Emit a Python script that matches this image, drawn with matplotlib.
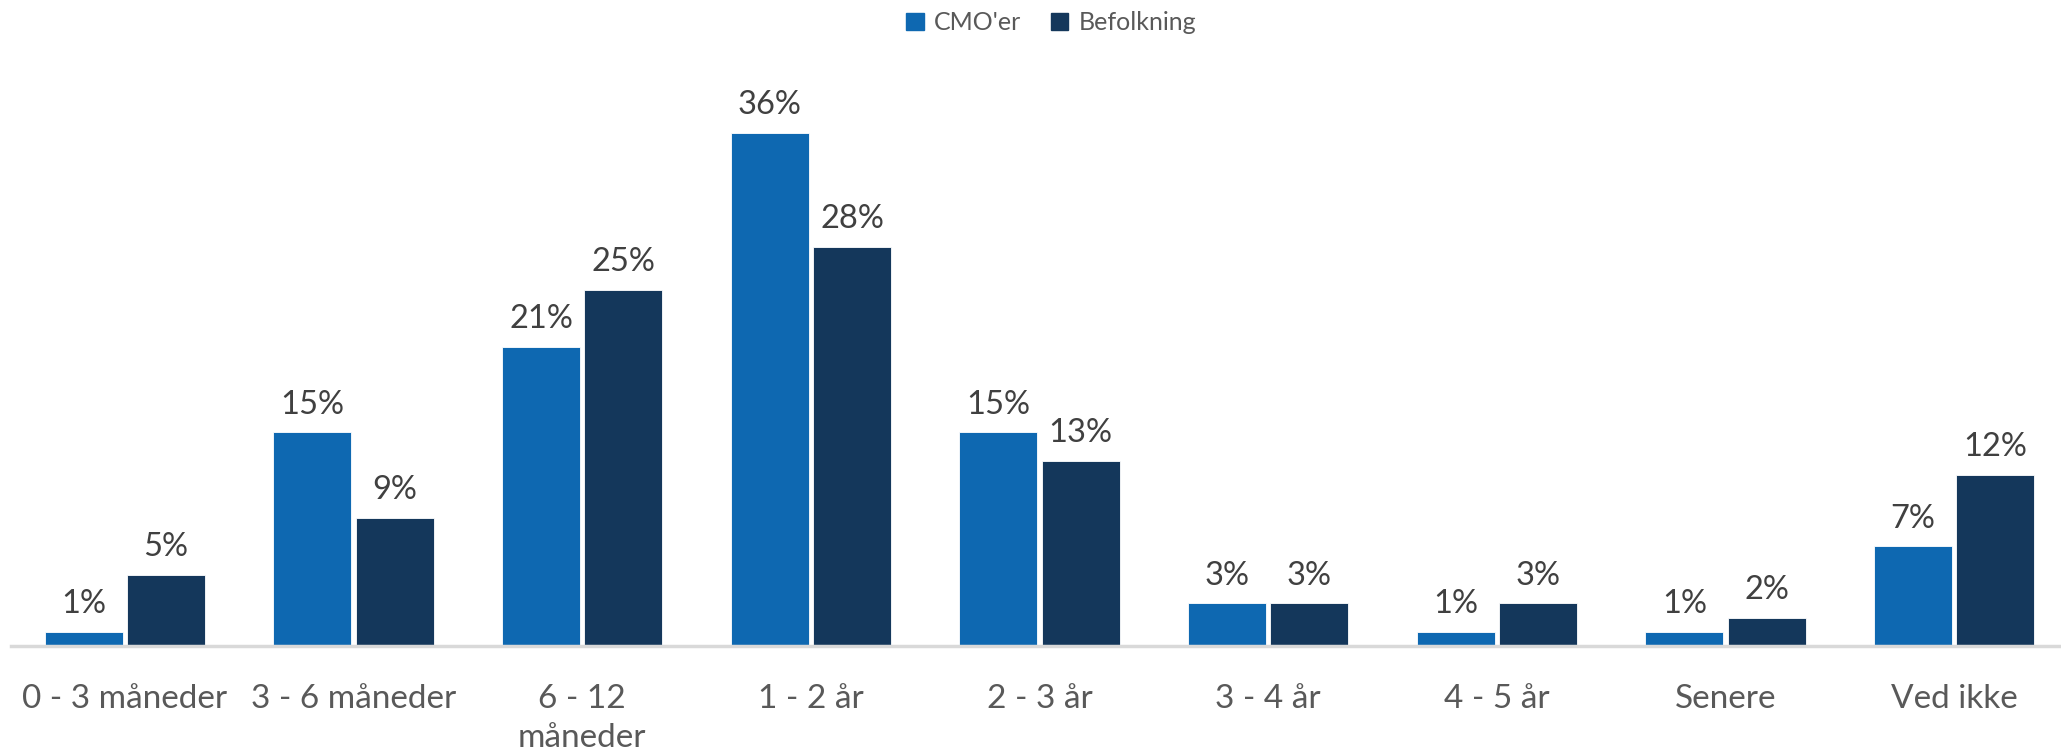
import numpy as np
import matplotlib
matplotlib.use('Agg')
import matplotlib.pyplot as plt
from matplotlib.patches import Patch

plt.rcParams['font.family'] = ['Lato', 'DejaVu Sans']

categories = ['0 - 3 måneder', '3 - 6 måneder', '6 - 12\nmåneder', '1 - 2 år', '2 - 3 år',
              '3 - 4 år', '4 - 5 år', 'Senere', 'Ved ikke']
cmo = [1, 15, 21, 36, 15, 3, 1, 1, 7]
befolkning = [5, 9, 25, 28, 13, 3, 3, 2, 12]
series_names = ["CMO'er", 'Befolkning']

c_cmo = '#0E68B1'
c_bef = '#14375B'

fig = plt.figure(figsize=(20.61, 7.56), dpi=100)
ax = fig.add_axes([10.5 / 2061, 0.1455, 2058 / 2061, 0.754])

x = np.arange(len(categories))
w = 0.34
off = 0.18
b1 = ax.bar(x - off, cmo, w, color=c_cmo, edgecolor='white', linewidth=0.6)
b2 = ax.bar(x + off, befolkning, w, color=c_bef, edgecolor='white', linewidth=0.6)

for bars, vals in [(b1, cmo), (b2, befolkning)]:
    for r, v in zip(bars, vals):
        ax.annotate(f'{v}%', (r.get_x() + r.get_width() / 2, v), xytext=(0, 9),
                    textcoords='offset points', ha='center', va='bottom',
                    fontsize=23.5, color='#404040')

ax.set_xlim(-0.5, len(categories) - 0.5)
ax.set_ylim(0, 40)
ax.set_yticks([])
ax.set_xticks(x)
ax.set_xticklabels(categories, fontsize=24, color='#595959', linespacing=1.4)
ax.tick_params(axis='x', length=0, pad=27)
for s in ['top', 'right', 'left']:
    ax.spines[s].set_visible(False)
ax.spines['bottom'].set_color('#D9D9D9')
ax.spines['bottom'].set_linewidth(2.5)

handles = [Patch(color=c_cmo), Patch(color=c_bef)]
fig.legend(handles, series_names, loc='center', bbox_to_anchor=(0.51, 0.97), ncol=2,
           frameon=False, fontsize=18, labelcolor='#595959', handlelength=0.7,
           handleheight=0.7, handletextpad=0.4, columnspacing=1.2)

fig.savefig('out.png', dpi=100)
